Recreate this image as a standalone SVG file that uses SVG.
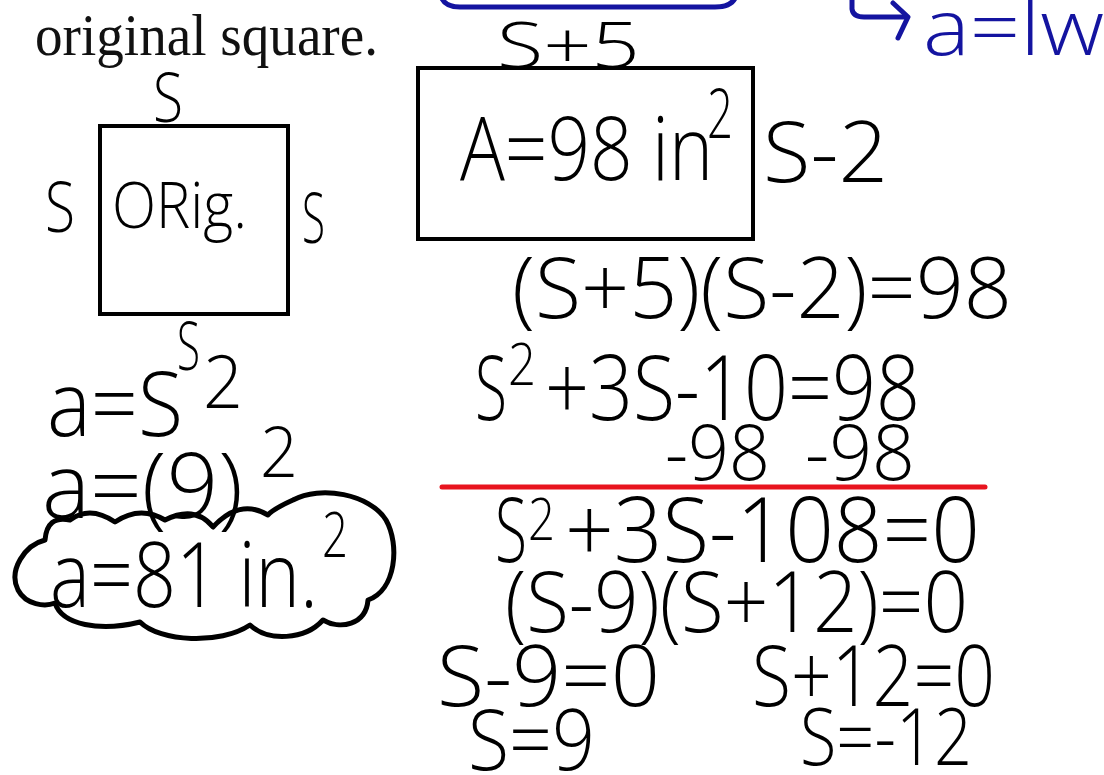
<svg xmlns="http://www.w3.org/2000/svg" width="1104" height="775" viewBox="0 0 1104 775">
<style>
.hw{font-family:"Open Sans","DejaVu Sans",sans-serif;font-weight:300;fill:#000}
.bl{fill:#1414a0}
.serif{font-family:"Liberation Serif","Times New Roman",serif;fill:#111}
.shape{fill:none;stroke:#000;stroke-width:4}
.ink{fill:none;stroke:#000;stroke-width:5;stroke-linecap:round;stroke-linejoin:round}
.blue{fill:none;stroke:#1414a0;stroke-width:5;stroke-linecap:round;stroke-linejoin:round}
</style>
<rect width="1104" height="775" fill="#fff"/>

<g id="heading">
<text class="serif" x="35" y="55" font-size="60" textLength="343" lengthAdjust="spacingAndGlyphs">original square.</text>
</g>

<g id="blue-notes">
<path class="blue" d="M 440 -20 L 441 -4 Q 444 7 460 7 L 715 7 Q 735 7 737 -8" stroke-width="6"/>
<path class="blue" d="M 852 0 L 852 9 Q 853 17 864 17 L 906 17"/>
<path class="blue" d="M 893 3 L 908 17 L 898 38"/>
<text class="hw bl" x="923" y="55" font-size="78" textLength="181" lengthAdjust="spacingAndGlyphs">a=lw</text>
</g>

<g id="new-rectangle">
<text class="hw" x="497" y="68" font-size="64" textLength="143" lengthAdjust="spacingAndGlyphs">S+5</text>
<rect class="shape" x="418" y="68" width="335" height="171"/>
<text class="hw" x="460" y="180" font-size="88" textLength="253" lengthAdjust="spacingAndGlyphs">A=98 in</text>
<text class="hw" x="707" y="138" font-size="68" textLength="26" lengthAdjust="spacingAndGlyphs">2</text>
<text class="hw" x="763" y="182" font-size="84" textLength="125" lengthAdjust="spacingAndGlyphs">S-2</text>
</g>

<g id="original-square">
<text class="hw" x="153" y="122" font-size="68" textLength="30" lengthAdjust="spacingAndGlyphs">S</text>
<rect class="shape" x="100" y="126" width="188" height="188"/>
<text class="hw" x="45" y="232" font-size="70" textLength="30" lengthAdjust="spacingAndGlyphs">S</text>
<text class="hw" x="112" y="228" font-size="64" textLength="135" lengthAdjust="spacingAndGlyphs">ORig.</text>
<text class="hw" x="302" y="243" font-size="70" textLength="23" lengthAdjust="spacingAndGlyphs">S</text>
<text class="hw" x="177" y="370" font-size="67" textLength="23" lengthAdjust="spacingAndGlyphs">S</text>
</g>

<g id="area-work">
<text class="hw" x="47" y="436" font-size="90" textLength="136" lengthAdjust="spacingAndGlyphs">a=S</text>
<text class="hw" x="203" y="408" font-size="74" textLength="40" lengthAdjust="spacingAndGlyphs">2</text>
<text class="hw" x="42" y="518" font-size="90" textLength="201" lengthAdjust="spacingAndGlyphs">a=(9)</text>
<text class="hw" x="260" y="477" font-size="70" textLength="38" lengthAdjust="spacingAndGlyphs">2</text>
</g>

<g id="answer-cloud">
<path class="ink" d="M 45 540 C 25 545, 8 570, 18 590 C 26 605, 45 607, 55 603 C 62 625, 100 632, 140 622 C 160 642, 220 645, 250 625 C 268 642, 305 640, 323 620 C 340 630, 366 625, 368 600 C 396 590, 400 545, 386 520 C 370 494, 320 485, 293 500 C 282 505, 272 510, 268 515 Q 240 498 213 527 Q 195 505 165 520 Q 140 505 115 522 Q 90 505 70 520 Q 47 515 45 540 Z"/>
<text class="hw" x="50" y="607" font-size="90" textLength="268" lengthAdjust="spacingAndGlyphs">a=81 in.</text>
<text class="hw" x="322" y="557" font-size="63" textLength="26" lengthAdjust="spacingAndGlyphs">2</text>
</g>

<g id="equation-work">
<text class="hw" x="512" y="318" font-size="84" textLength="500" lengthAdjust="spacingAndGlyphs">(S+5)(S-2)=98</text>
<text class="hw" x="475" y="420" font-size="90" textLength="32" lengthAdjust="spacingAndGlyphs">S</text>
<text class="hw" x="508" y="385" font-size="58" textLength="28" lengthAdjust="spacingAndGlyphs">2</text>
<text class="hw" x="545" y="420" font-size="90" textLength="375" lengthAdjust="spacingAndGlyphs">+3S-10=98</text>
<text class="hw" x="665" y="480" font-size="78" textLength="105" lengthAdjust="spacingAndGlyphs">-98</text>
<text class="hw" x="805" y="480" font-size="78" textLength="110" lengthAdjust="spacingAndGlyphs">-98</text>
<line x1="442" y1="487" x2="985" y2="487" stroke="#e8141e" stroke-width="5" stroke-linecap="round"/>
<text class="hw" x="495" y="562" font-size="90" textLength="32" lengthAdjust="spacingAndGlyphs">S</text>
<text class="hw" x="528" y="540" font-size="58" textLength="27" lengthAdjust="spacingAndGlyphs">2</text>
<text class="hw" x="565" y="562" font-size="90" textLength="415" lengthAdjust="spacingAndGlyphs">+3S-108=0</text>
<text class="hw" x="505" y="632" font-size="84" textLength="463" lengthAdjust="spacingAndGlyphs">(S-9)(S+12)=0</text>
<text class="hw" x="437" y="706" font-size="84" textLength="223" lengthAdjust="spacingAndGlyphs">S-9=0</text>
<text class="hw" x="752" y="706" font-size="84" textLength="243" lengthAdjust="spacingAndGlyphs">S+12=0</text>
<text class="hw" x="468" y="770" font-size="84" textLength="127" lengthAdjust="spacingAndGlyphs">S=9</text>
<text class="hw" x="800" y="765" font-size="80" textLength="172" lengthAdjust="spacingAndGlyphs">S=-12</text>
</g>
</svg>
